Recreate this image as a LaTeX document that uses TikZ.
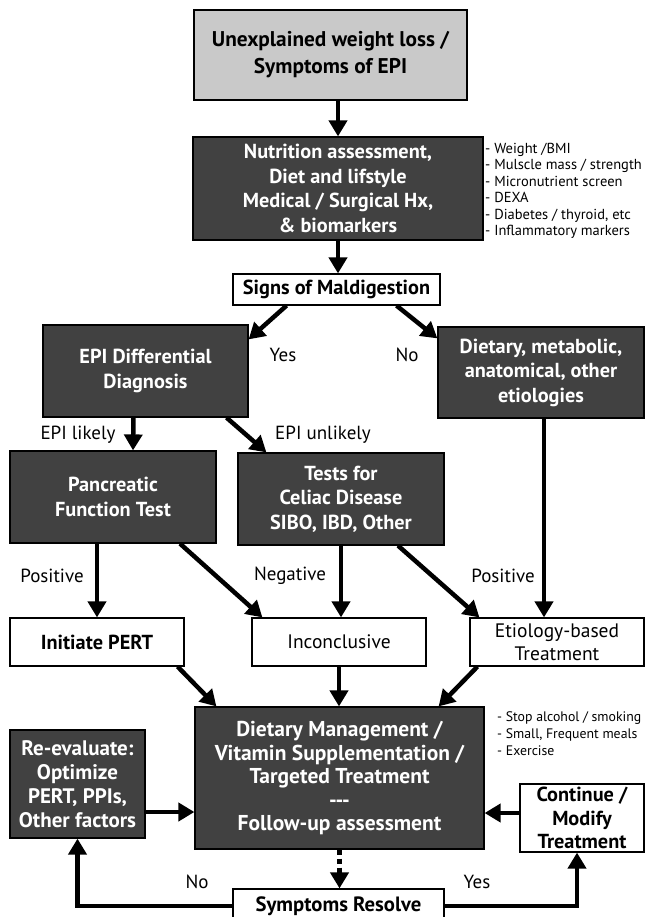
\documentclass[tikz,border=0pt]{standalone}
\usepackage{fontspec}
\setmainfont{PT Sans}
\usetikzlibrary{positioning,arrows.meta}
\definecolor{boxdark}{HTML}{414141}
\definecolor{boxlight}{HTML}{C9C9C9}

\begin{document}
\begin{tikzpicture}[x=1pt,y=-1pt,
    darkbox/.style={draw=black, line width=1.2pt, fill=boxdark, text=white, align=center, inner sep=0pt,
      font=\fontsize{20.3}{24.5}\selectfont\bfseries},
    whitebox/.style={draw=black, line width=1.2pt, fill=white, align=center, inner sep=0pt,
      font=\fontsize{19.5}{23}\selectfont},
    boldbox/.style={whitebox, font=\fontsize{20.3}{23.5}\selectfont\bfseries},
    flow/.style={line width=4.5pt, -{Triangle[width=18pt,length=16pt]}},
    lbl/.style={font=\fontsize{19}{22}\selectfont, inner sep=0pt},
    notes/.style={align=left, inner sep=0pt}
  ]
  \useasboundingbox (0,0) rectangle (646,917);
  \clip (0,0) rectangle (646,917);

  % boxes
  \node[whitebox, fill=boxlight, minimum width=273pt, minimum height=90pt,
    font=\fontsize{21.3}{27}\selectfont\bfseries] (weightloss) at (330.5,55) {Unexplained weight loss /\\Symptoms of EPI};
  \node[darkbox, minimum width=290pt, minimum height=103pt] (nutrition) at (338,188.5)
    {Nutrition assessment,\\Diet and lifstyle\\Medical / Surgical Hx,\\\& biomarkers};
  \node[notes, anchor=north west, font=\fontsize{14.5}{16.4}\selectfont] (nutrnotes) at (485,143)
    {- Weight /BMI\\- Mulscle mass / strength\\- Micronutrient screen\\- DEXA\\- Diabetes / thyroid, etc\\- Inflammatory markers};
  \node[boldbox, minimum width=207pt, minimum height=31pt] (signs) at (336.5,289.5) {Signs of Maldigestion};
  \node[darkbox, minimum width=205pt, minimum height=92pt] (differential) at (145.5,371) {EPI Differential\\Diagnosis};
  \node[darkbox, minimum width=206pt, minimum height=91pt] (etiologies) at (541,372.5) {Dietary, metabolic,\\anatomical, other\\etiologies};
  \node[darkbox, minimum width=206pt, minimum height=92pt] (pancreatic) at (113,497) {Pancreatic\\Function Test};
  \node[darkbox, minimum width=206pt, minimum height=92pt] (tests) at (341,499) {Tests for\\Celiac Disease\\SIBO, IBD, Other};
  \node[boldbox, minimum width=174pt, minimum height=48pt] (pert) at (97,642) {Initiate PERT};
  \node[whitebox, minimum width=174pt, minimum height=48pt] (inconclusive) at (339,642) {Inconclusive};
  \node[whitebox, minimum width=174pt, minimum height=48pt] (etiobased) at (557,642) {Etiology-based\\Treatment};
  \node[darkbox, minimum width=289pt, minimum height=142pt, font=\fontsize{21.5}{23.5}\selectfont\bfseries] (management) at (339.5,778)
    {Dietary Management /\\Vitamin Supplementation /\\Targeted Treatment\\-{}-{}-\\Follow-up assessment};
  \node[notes, anchor=north west, font=\fontsize{13.8}{17}\selectfont] (mgmtnotes) at (497,711)
    {- Stop alcohol / smoking\\- Small, Frequent meals\\- Exercise};
  \node[darkbox, minimum width=135pt, minimum height=108pt, font=\fontsize{21}{24}\selectfont\bfseries] (reevaluate) at (77.5,784) {Re-evaluate:\\Optimize\\PERT, PPIs,\\Other factors};
  \node[boldbox, minimum width=124pt, minimum height=68pt] (continue) at (582,818) {Continue /\\Modify\\Treatment};
  \node[boldbox, minimum width=211pt, minimum height=34pt, font=\fontsize{20.7}{23}\selectfont\bfseries] (resolve) at (338.5,906) {Symptoms Resolve};

  % labels
  \node[lbl] (yes1) at (283,355) {Yes};
  \node[lbl] (no1) at (407,355) {No};
  \node[lbl] (likely) at (78,435) {EPI likely};
  \node[lbl, anchor=west] (unlikely) at (275,435) {EPI unlikely};
  \node[lbl] (pos1) at (52,576) {Positive};
  \node[lbl] (neg) at (290,576) {Negative};
  \node[lbl] (pos2) at (503,576) {Positive};
  \node[lbl] (no2) at (197,882) {No};
  \node[lbl] (yes2) at (477,882) {Yes};

  % connectors
  \draw[flow] (nutrition.north |- weightloss.south) -- (nutrition.north);
  \draw[flow] (nutrition.south) -- (nutrition.south |- signs.north);
  \draw[flow] ([xshift=-50pt]signs.south) -- ([yshift=-15pt]differential.north east);
  \draw[flow] ([xshift=60pt]signs.south) -- ([yshift=-12pt]etiologies.north west);
  \draw[flow] ([xshift=-12pt]differential.south) -- ([xshift=20pt]pancreatic.north);
  \draw[flow] ([xshift=81pt]differential.south) -- ([xshift=29pt]tests.north west);
  \draw[flow] (pert.north |- pancreatic.south) -- (pert.north);
  \draw[flow] ([xshift=67pt]pancreatic.south) -- ([xshift=11pt]inconclusive.north west);
  \draw[flow] (tests.south) -- (tests.south |- inconclusive.north);
  \draw[flow] ([xshift=57pt]tests.south) -- ([xshift=10pt]etiobased.north west);
  \draw[flow] ([xshift=3pt]etiologies.south) -- ([xshift=-13pt]etiobased.north);
  \draw[flow] ([xshift=-7pt]pert.south east) -- ([xshift=22pt]management.north west);
  \draw[flow] (inconclusive.south) -- (inconclusive.south |- management.north);
  \draw[flow] ([xshift=8pt]etiobased.south west) -- ([xshift=-46pt]management.north east);
  \draw[flow] ([yshift=-28pt]reevaluate.east) -- ([yshift=-34pt]management.west);
  \draw[flow] ([yshift=5pt]continue.west) -- ([yshift=-35pt]management.east);
  \draw[flow, dash pattern=on 5pt off 4pt] (management.south) -- (management.south |- resolve.north);
  \draw[flow] (resolve.west) -| (reevaluate.south);
  \draw[flow] (resolve.east) -| ([xshift=-5pt]continue.south);
\end{tikzpicture}
\end{document}
